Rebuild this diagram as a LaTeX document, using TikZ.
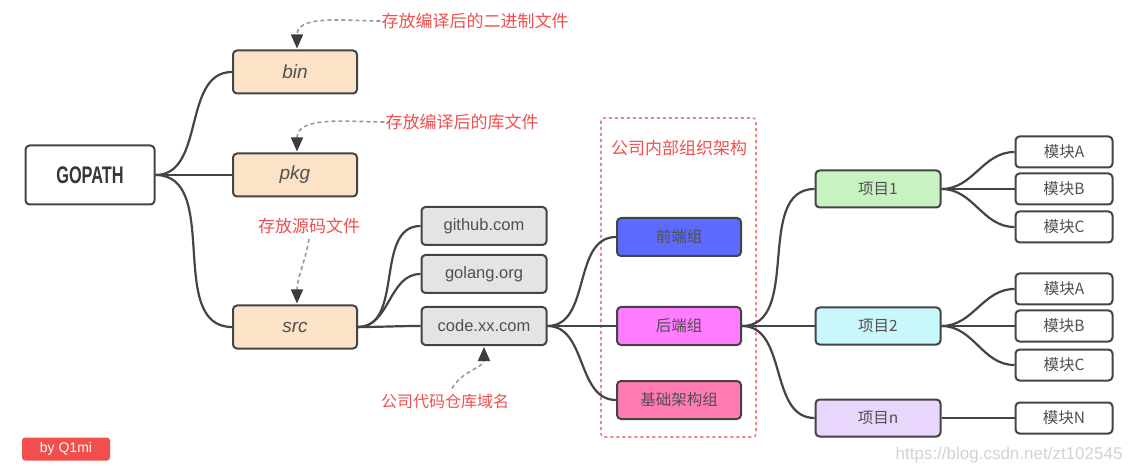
\documentclass[tikz,border=0pt]{standalone}
\usepackage{fontspec}
\setmainfont{Liberation Sans}
\newfontfamily\cjk{Noto Sans CJK SC}
\usetikzlibrary{arrows.meta}

\definecolor{edge}{HTML}{444444}
\definecolor{txt}{HTML}{505050}
\definecolor{peach}{HTML}{FCE3C8}
\definecolor{grey}{HTML}{E4E4E4}
\definecolor{qblue}{HTML}{5B6BFF}
\definecolor{hmag}{HTML}{FF7BFF}
\definecolor{jpink}{HTML}{FF7BB2}
\definecolor{xgreen}{HTML}{C8F2C2}
\definecolor{xcyan}{HTML}{C8F8FC}
\definecolor{xlav}{HTML}{E8D6FC}
\definecolor{anno}{HTML}{F24E4E}

\begin{document}
\begin{tikzpicture}[x=1pt,y=-1pt,
  box/.style={draw=edge,line width=2pt,rounded corners=4pt,inner sep=0pt,text=txt},
  dir/.style={box,fill=peach,minimum width=124pt,minimum height=43pt,font=\fontsize{19}{19}\selectfont\itshape},
  dom/.style={box,fill=grey,minimum width=125pt,minimum height=38pt,font=\fontsize{16.5}{16.5}\selectfont},
  grp/.style={box,minimum width=124pt,minimum height=38pt,font=\cjk\fontsize{15.5}{15.5}\selectfont},
  proj/.style={box,minimum width=125pt,minimum height=37pt,font=\cjk\fontsize{15.5}{15.5}\selectfont},
  mod/.style={box,fill=white,minimum width=97pt,minimum height=31pt,font=\cjk\fontsize{15.5}{15.5}\selectfont},
  link/.style={draw=edge,line width=2.2pt},
  note/.style={text=anno,font=\cjk\fontsize{17}{17}\selectfont,inner sep=1pt},
  hint/.style={draw=gray!80,line width=1.6pt,dash pattern=on 4pt off 3pt,
    -{Triangle[width=12pt,length=14pt,color=edge!90!black]}}]
  \useasboundingbox (0,0) rectangle (1136,473);

  \node[box,minimum width=129pt,minimum height=59pt,text=edge!80!black] (gopath) at (90,175)
    {\scalebox{0.68}[1]{\fontsize{24}{24}\selectfont\bfseries GOPATH}};
  \node[dir] (bin) at (295,72) {bin};
  \node[dir] (pkg) at (295,175) {pkg};
  \node[dir] (src) at (295,327) {src};

  \node[dom] (github) at (484,226) {github.com};
  \node[dom] (golang) at (484,274) {golang.org};
  \node[dom] (codexx) at (484,326) {code.xx.com};

  % org groups
  \draw[anno!70,line width=1.6pt,dashed,rounded corners=3pt] (601,118) rectangle (756,437);
  \node[note] (orglabel) at (679,148) {公司内部组织架构};
  \node[grp,fill=qblue] (qianduan) at (679,237) {前端组};
  \node[grp,fill=hmag] (houduan) at (679,326) {后端组};
  \node[grp,fill=jpink] (jichu) at (679,400) {基础架构组};

  \node[proj,fill=xgreen] (xm1) at (878,189) {项目1};
  \node[proj,fill=xcyan] (xm2) at (878,326) {项目2};
  \node[proj,fill=xlav] (xmn) at (878,418) {项目n};

  \node[mod] (mka) at (1064,152) {模块A};
  \node[mod] (mkb) at (1064,189) {模块B};
  \node[mod] (mkc) at (1064,227) {模块C};
  \node[mod] (mkd) at (1064,289) {模块A};
  \node[mod] (mke) at (1064,326) {模块B};
  \node[mod] (mkf) at (1064,365) {模块C};
  \node[mod] (mkn) at (1064,418) {模块N};

  \foreach \t in {bin,pkg,src} \draw[link] (gopath.east) to[out=0,in=180] (\t.west);
  \foreach \t in {github,golang,codexx} \draw[link] (src.east) to[out=0,in=180] (\t.west);
  \foreach \t in {qianduan,houduan,jichu} \draw[link] (codexx.east) to[out=0,in=180] (\t.west);
  \foreach \t in {xm1,xm2,xmn} \draw[link] (houduan.east) to[out=0,in=180] (\t.west);
  \foreach \t in {mka,mkb,mkc} \draw[link] (xm1.east) to[out=0,in=180] (\t.west);
  \foreach \t in {mkd,mke,mkf} \draw[link] (xm2.east) to[out=0,in=180] (\t.west);
  \draw[link] (xmn.east) -- (mkn.west);

  % notes
  \node[note] (n1) at (475,21) {存放编译后的二进制文件};
  \node[note] (n2) at (462,122) {存放编译后的库文件};
  \node[note] (n3) at (309,226) {存放源码文件};
  \node[note,font=\cjk\fontsize{16}{16}\selectfont] (n4) at (445,401) {公司代码仓库域名};
  \draw[hint] (n1.west) to[out=180,in=90] ([xshift=2pt,yshift=1pt]bin.north);
  \draw[hint] (n2.west) to[out=180,in=90] ([xshift=2pt,yshift=1pt]pkg.north);
  \draw[hint] ([yshift=-4pt]n3.south) to[out=-100,in=90] ([xshift=2pt,yshift=1pt]src.north);
  \draw[hint] ([xshift=7pt,yshift=4pt]n4.north) to[out=60,in=-90] ([yshift=-1pt]codexx.south);

  \node[fill=anno,rounded corners=3pt,minimum width=88pt,minimum height=23pt,inner sep=0pt,
    text=white,font=\fontsize{14}{14}\selectfont] (sign) at (66,449) {by Q1mi};
  \node[text=gray!35,font=\fontsize{17}{17}\selectfont,anchor=east] (mark) at (1126,455)
    {https://blog.csdn.net/zt102545};
\end{tikzpicture}
\end{document}
